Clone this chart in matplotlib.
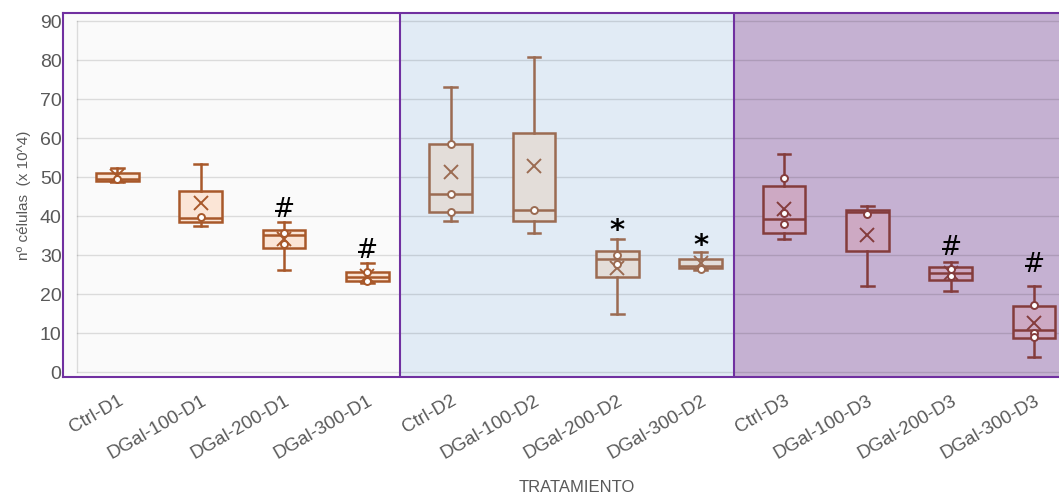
import numpy as np
import matplotlib
matplotlib.use("Agg")
import matplotlib.pyplot as plt

plt.rcParams['font.family'] = ['Liberation Sans', 'DejaVu Sans']

labels = ['Ctrl-D1', 'DGal-100-D1', 'DGal-200-D1', 'DGal-300-D1',
          'Ctrl-D2', 'DGal-100-D2', 'DGal-200-D2', 'DGal-300-D2',
          'Ctrl-D3', 'DGal-100-D3', 'DGal-200-D3', 'DGal-300-D3']

# valores (x 10^4 celulas)
whis_lo = [48.7, 37.5, 26.3, 22.8, 38.9, 35.7, 15.0, 26.1, 34.1, 22.0, 20.9, 3.9]
q1 = [49.0, 38.6, 31.8, 23.5, 41.2, 38.8, 24.4, 26.8, 35.7, 31.2, 23.7, 8.7]
median = [49.5, 39.5, 35.1, 24.4, 45.6, 41.7, 29.0, 27.2, 39.3, 41.1, 25.4, 10.8]
q3 = [51.2, 46.5, 36.5, 25.8, 58.6, 61.3, 31.0, 29.0, 47.7, 41.6, 26.9, 17.0]
whis_hi = [52.4, 53.3, 38.4, 28.0, 73.1, 80.8, 34.1, 30.8, 55.9, 42.6, 28.4, 22.2]
means = [50.4, 43.4, 34.1, 24.7, 51.4, 52.8, 26.7, 28.0, 41.8, 35.2, 25.4, 12.6]
inner_points = [[49.6], [39.8], [35.7, 33.0], [25.8, 23.4],
                [58.6, 45.6, 41.2], [41.7], [30.0, 27.8], [26.4],
                [49.9, 40.8, 37.9], [40.7], [26.4, 24.8], [17.2, 10.2, 9.0]]

# marcas de significancia
sig_marks = ['', '', '#', '#', '', '', '*', '*', '', '', '#', '#']
sig_y = [0, 0, 39.8, 29.2, 0, 0, 34.2, 30.4, 0, 0, 30.0, 25.8]

groups = [(0, 4), (4, 8), (8, 12)]
edge_colors = ['#A8582A', '#9B6B52', '#843C3C']
fill_colors = ['#FBE5D6', '#E3DDD9', '#CDA9C3']
bg_colors = ['#FAFAFA', '#E1EBF5', '#C5B1D2']
purple = '#7030A0'
gray = '#595959'

fig = plt.figure(figsize=(10.59, 4.95), dpi=100)
ax = fig.add_axes([0.0595, 0.2384, 0.9405, 0.7354])
x0, x1 = -0.652, 11.30
ax.set_xlim(x0, x1)
ax.set_ylim(-1.2, 92.1)

# fondos por dia
bounds = [x0, 3.39, 7.40, x1]
for k in range(3):
    ax.axvspan(bounds[k], bounds[k + 1], color=bg_colors[k], zorder=0, lw=0)
for b in bounds[1:3]:
    ax.axvline(b, color=purple, lw=1.5, zorder=1)

# cuadricula
for v in range(0, 100, 10):
    ax.plot([-0.484, x1], [v, v], color='black', alpha=0.12, lw=1, zorder=0.5)
ax.plot([-0.484, -0.484], [0, 90], color='black', alpha=0.12, lw=1, zorder=0.5)

for k, (a, b) in enumerate(groups):
    stats = []
    for i in range(a, b):
        stats.append({'whislo': whis_lo[i], 'q1': q1[i], 'med': median[i],
                      'q3': q3[i], 'whishi': whis_hi[i], 'mean': means[i],
                      'fliers': []})
    ec = edge_colors[k]
    ax.bxp(stats, positions=list(range(a, b)), widths=0.51, capwidths=0.15,
           patch_artist=True, showmeans=True, showfliers=False,
           boxprops=dict(facecolor=fill_colors[k], edgecolor=ec, lw=1.8),
           medianprops=dict(color=ec, lw=1.8),
           whiskerprops=dict(color=ec, lw=1.8),
           capprops=dict(color=ec, lw=1.8),
           meanprops=dict(marker='x', markeredgecolor=ec, markersize=10,
                          markeredgewidth=1.4),
           manage_ticks=False, zorder=2)
    for i in range(a, b):
        ax.plot([i] * len(inner_points[i]), inner_points[i], 'o', color=ec,
                markerfacecolor='white', markersize=5, markeredgewidth=1.4,
                zorder=3)

for i, m in enumerate(sig_marks):
    if m == '#':
        ax.text(i, sig_y[i], m, ha='center', va='baseline', fontsize=19,
                color='black', family='DejaVu Sans', zorder=4)
    elif m == '*':
        ax.text(i, sig_y[i], m, ha='center', va='baseline', fontsize=21,
                color='black', family='DejaVu Sans', fontweight='bold', zorder=4)

for side in ['left', 'top', 'bottom']:
    ax.spines[side].set_color(purple)
    ax.spines[side].set_linewidth(1.5)
ax.spines['right'].set_visible(False)

ax.set_yticks(range(0, 100, 10))
ax.tick_params(axis='y', length=0, pad=1, labelsize=14, labelcolor=gray)
ax.set_xticks(range(len(labels)))
ax.set_xticklabels(labels, rotation=30, ha='right', rotation_mode='anchor',
                   fontsize=13.5, color=gray)
ax.tick_params(axis='x', length=0, pad=11)

ax.set_ylabel('nº células  (x 10^4)', fontsize=11, color=gray, labelpad=6)
fig.text(577 / 1059, 8 / 495, 'TRATAMIENTO', ha='center', va='center',
         fontsize=12, color=gray)

plt.savefig('out.png', dpi=100)
